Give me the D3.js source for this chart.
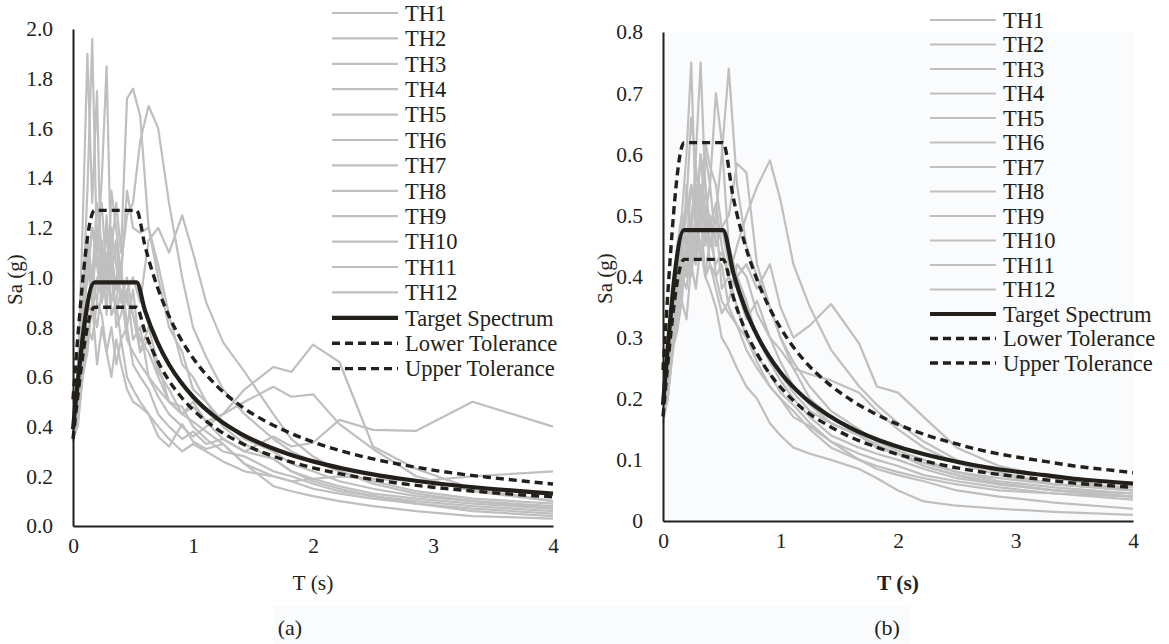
<!DOCTYPE html>
<html lang="en">
<head>
    <meta charset="UTF-8">
    <title>Response Spectra</title>
    <script src="https://d3js.org/d3.v7.min.js"></script>
    <style>
        html, body { margin: 0; padding: 0; background: #ffffff; }
        svg text { font-family: "Liberation Serif", "DejaVu Serif", serif; fill: #231f1a; }
    </style>
</head>
<body>
    <div id="chart"></div>

    <script>
        // Periods (s) of the record spectra
        const periods = [0, 0.04, 0.08, 0.12, 0.16, 0.20, 0.24, 0.28, 0.32, 0.36, 0.40, 0.45, 0.50, 0.56, 0.63,
            0.71, 0.80, 0.91, 1.0, 1.11, 1.25, 1.43, 1.67, 1.82, 2.0, 2.22, 2.5, 2.86, 3.33, 4.0];

        const seriesNames = ['TH1', 'TH2', 'TH3', 'TH4', 'TH5', 'TH6', 'TH7', 'TH8', 'TH9', 'TH10', 'TH11', 'TH12'];

        // (a) record spectra, Sa (g)
        const thA = [
            [0.38, 0.55, 0.90, 1.35, 1.96, 1.10, 0.95, 1.20, 0.85, 0.90, 1.05, 0.80, 0.95, 0.70, 0.75, 0.62, 0.55, 0.45, 0.42, 0.38, 0.33, 0.25, 0.20, 0.18, 0.15, 0.13, 0.11, 0.09, 0.07, 0.05],
            [0.36, 0.60, 1.20, 1.90, 1.30, 1.75, 0.90, 1.00, 1.15, 0.80, 0.85, 0.95, 0.75, 0.80, 0.60, 0.55, 0.50, 0.48, 0.40, 0.35, 0.30, 0.28, 0.22, 0.20, 0.17, 0.14, 0.12, 0.10, 0.08, 0.06],
            [0.40, 0.50, 0.85, 1.00, 1.20, 1.10, 1.40, 1.85, 1.00, 1.15, 0.90, 1.00, 0.85, 0.70, 0.80, 0.65, 0.50, 0.45, 0.50, 0.42, 0.35, 0.30, 0.27, 0.22, 0.19, 0.16, 0.13, 0.11, 0.09, 0.07],
            [0.42, 0.60, 0.80, 1.05, 0.90, 1.20, 1.00, 0.95, 1.10, 1.30, 1.10, 1.72, 1.76, 1.65, 1.20, 1.00, 0.80, 0.70, 0.55, 0.50, 0.42, 0.35, 0.30, 0.25, 0.22, 0.18, 0.15, 0.12, 0.10, 0.08],
            [0.40, 0.50, 0.70, 0.90, 0.85, 1.00, 0.95, 1.10, 0.90, 1.00, 1.05, 1.25, 1.30, 1.55, 1.69, 1.60, 1.30, 1.00, 0.80, 0.68, 0.55, 0.45, 0.35, 0.30, 0.26, 0.22, 0.18, 0.14, 0.11, 0.09],
            [0.38, 0.45, 0.70, 0.85, 1.00, 0.90, 1.15, 0.95, 1.20, 1.05, 0.90, 0.95, 1.00, 0.90, 1.15, 1.20, 1.10, 1.25, 1.10, 0.90, 0.74, 0.62, 0.45, 0.35, 0.28, 0.22, 0.17, 0.13, 0.10, 0.07],
            [0.35, 0.40, 0.60, 0.75, 0.90, 0.80, 0.95, 1.05, 0.85, 0.90, 0.75, 0.80, 0.65, 0.60, 0.55, 0.45, 0.40, 0.35, 0.38, 0.33, 0.35, 0.30, 0.36, 0.32, 0.335, 0.427, 0.387, 0.383, 0.50, 0.40],
            [0.40, 0.55, 0.75, 1.10, 0.95, 1.15, 1.30, 1.00, 1.10, 0.95, 1.00, 0.90, 0.85, 0.75, 0.70, 0.60, 0.50, 0.45, 0.48, 0.42, 0.45, 0.55, 0.64, 0.62, 0.73, 0.66, 0.32, 0.23, 0.15, 0.10],
            [0.45, 0.60, 0.85, 1.00, 1.20, 1.05, 0.90, 1.25, 1.00, 0.85, 0.95, 0.75, 0.70, 0.65, 0.60, 0.52, 0.45, 0.40, 0.36, 0.40, 0.45, 0.50, 0.56, 0.52, 0.53, 0.41, 0.31, 0.20, 0.14, 0.10],
            [0.36, 0.45, 0.65, 0.80, 0.75, 0.90, 0.85, 0.70, 0.80, 0.65, 0.75, 0.60, 0.55, 0.50, 0.45, 0.40, 0.35, 0.30, 0.33, 0.30, 0.26, 0.22, 0.20, 0.18, 0.19, 0.20, 0.19, 0.18, 0.20, 0.22],
            [0.34, 0.42, 0.60, 0.70, 0.90, 0.65, 0.80, 0.70, 0.60, 0.75, 0.65, 0.55, 0.50, 0.48, 0.45, 0.36, 0.32, 0.41, 0.34, 0.31, 0.33, 0.25, 0.16, 0.14, 0.12, 0.10, 0.08, 0.06, 0.04, 0.03],
            [0.40, 0.50, 0.80, 1.15, 1.00, 1.30, 1.10, 0.85, 1.35, 1.20, 1.00, 1.35, 1.20, 1.18, 1.20, 1.05, 0.85, 0.65, 0.60, 0.50, 0.40, 0.33, 0.27, 0.22, 0.18, 0.15, 0.12, 0.09, 0.06, 0.04]
        ];

        // (b) record spectra, Sa (g)
        const thB = [
            [0.18, 0.25, 0.35, 0.45, 0.50, 0.60, 0.75, 0.50, 0.55, 0.45, 0.50, 0.40, 0.42, 0.35, 0.32, 0.30, 0.26, 0.22, 0.20, 0.18, 0.15, 0.12, 0.10, 0.09, 0.08, 0.07, 0.06, 0.05, 0.045, 0.04],
            [0.20, 0.22, 0.30, 0.42, 0.38, 0.55, 0.45, 0.60, 0.75, 0.55, 0.45, 0.50, 0.38, 0.40, 0.35, 0.30, 0.27, 0.24, 0.21, 0.19, 0.16, 0.13, 0.11, 0.10, 0.09, 0.075, 0.065, 0.055, 0.045, 0.035],
            [0.17, 0.20, 0.28, 0.35, 0.45, 0.40, 0.50, 0.55, 0.48, 0.60, 0.55, 0.70, 0.62, 0.45, 0.40, 0.36, 0.30, 0.26, 0.23, 0.20, 0.17, 0.14, 0.12, 0.11, 0.10, 0.085, 0.07, 0.06, 0.05, 0.04],
            [0.19, 0.24, 0.32, 0.40, 0.36, 0.45, 0.50, 0.42, 0.55, 0.50, 0.45, 0.50, 0.60, 0.74, 0.55, 0.45, 0.40, 0.35, 0.30, 0.25, 0.20, 0.17, 0.14, 0.12, 0.11, 0.09, 0.075, 0.06, 0.05, 0.045],
            [0.18, 0.22, 0.30, 0.38, 0.42, 0.40, 0.48, 0.45, 0.52, 0.47, 0.50, 0.45, 0.48, 0.50, 0.585, 0.57, 0.42, 0.35, 0.30, 0.26, 0.22, 0.18, 0.15, 0.13, 0.115, 0.10, 0.08, 0.065, 0.055, 0.045],
            [0.20, 0.23, 0.30, 0.36, 0.40, 0.45, 0.42, 0.50, 0.45, 0.40, 0.46, 0.42, 0.44, 0.40, 0.45, 0.50, 0.547, 0.59, 0.525, 0.42, 0.35, 0.28, 0.22, 0.19, 0.16, 0.13, 0.10, 0.08, 0.06, 0.05],
            [0.21, 0.25, 0.33, 0.40, 0.45, 0.50, 0.55, 0.48, 0.60, 0.50, 0.55, 0.45, 0.48, 0.42, 0.40, 0.42, 0.38, 0.42, 0.35, 0.30, 0.32, 0.355, 0.29, 0.22, 0.21, 0.17, 0.12, 0.09, 0.07, 0.05],
            [0.17, 0.20, 0.28, 0.35, 0.40, 0.38, 0.45, 0.42, 0.50, 0.40, 0.38, 0.35, 0.30, 0.28, 0.25, 0.22, 0.20, 0.16, 0.14, 0.12, 0.11, 0.10, 0.085, 0.07, 0.05, 0.032, 0.025, 0.02, 0.015, 0.01],
            [0.16, 0.20, 0.27, 0.33, 0.38, 0.42, 0.40, 0.47, 0.43, 0.50, 0.42, 0.40, 0.36, 0.34, 0.32, 0.28, 0.25, 0.22, 0.20, 0.17, 0.155, 0.13, 0.10, 0.085, 0.075, 0.065, 0.05, 0.04, 0.03, 0.02],
            [0.22, 0.26, 0.34, 0.42, 0.50, 0.45, 0.55, 0.50, 0.60, 0.55, 0.48, 0.52, 0.45, 0.40, 0.38, 0.33, 0.36, 0.30, 0.28, 0.25, 0.24, 0.23, 0.21, 0.18, 0.15, 0.12, 0.095, 0.075, 0.06, 0.05],
            [0.19, 0.21, 0.28, 0.31, 0.36, 0.33, 0.42, 0.38, 0.45, 0.40, 0.42, 0.38, 0.34, 0.36, 0.42, 0.40, 0.34, 0.30, 0.26, 0.22, 0.19, 0.16, 0.14, 0.125, 0.11, 0.09, 0.075, 0.062, 0.05, 0.04],
            [0.20, 0.24, 0.32, 0.40, 0.48, 0.52, 0.66, 0.58, 0.50, 0.62, 0.58, 0.55, 0.48, 0.45, 0.40, 0.35, 0.30, 0.27, 0.24, 0.21, 0.18, 0.16, 0.14, 0.12, 0.11, 0.095, 0.08, 0.07, 0.06, 0.055]
        ];

        // Target spectrum and tolerance bounds
        const periodsTargetA = [0, 0.18, 0.53, 0.6, 0.7, 0.8, 0.9, 1.0, 1.2, 1.4, 1.6, 1.8, 2.0, 2.25, 2.5, 2.75, 3.0, 3.25, 3.5, 3.75, 4.0];
        const targetA = [0.39, 0.98, 0.98, 0.867, 0.743, 0.65, 0.578, 0.52, 0.433, 0.371, 0.325, 0.289, 0.26, 0.231, 0.208, 0.189, 0.173, 0.16, 0.149, 0.139, 0.13];
        const lowerA = [0.35, 0.88, 0.88, 0.78, 0.669, 0.585, 0.52, 0.468, 0.39, 0.334, 0.293, 0.26, 0.234, 0.208, 0.187, 0.17, 0.156, 0.144, 0.134, 0.125, 0.117];
        const upperA = [0.51, 1.27, 1.27, 1.127, 0.966, 0.845, 0.751, 0.676, 0.563, 0.482, 0.423, 0.376, 0.338, 0.30, 0.27, 0.246, 0.225, 0.208, 0.194, 0.181, 0.169];

        const periodsTargetB = [0, 0.18, 0.51, 0.6, 0.7, 0.8, 0.9, 1.0, 1.2, 1.4, 1.6, 1.8, 2.0, 2.25, 2.5, 2.75, 3.0, 3.25, 3.5, 3.75, 4.0];
        const targetB = [0.19, 0.476, 0.476, 0.405, 0.347, 0.304, 0.27, 0.243, 0.2025, 0.174, 0.152, 0.135, 0.1215, 0.108, 0.097, 0.088, 0.081, 0.075, 0.069, 0.065, 0.061];
        const lowerB = [0.171, 0.428, 0.428, 0.365, 0.312, 0.274, 0.243, 0.219, 0.182, 0.157, 0.137, 0.122, 0.109, 0.097, 0.087, 0.079, 0.073, 0.0675, 0.062, 0.0585, 0.055];
        const upperB = [0.247, 0.619, 0.619, 0.527, 0.451, 0.395, 0.351, 0.316, 0.263, 0.226, 0.198, 0.176, 0.158, 0.14, 0.126, 0.114, 0.105, 0.0975, 0.09, 0.0845, 0.079];

        const xTicks = [0, 1, 2, 3, 4];
        const yTicksA = [0, 0.2, 0.4, 0.6, 0.8, 1.0, 1.2, 1.4, 1.6, 1.8, 2.0];
        const yTicksB = [0, 0.1, 0.2, 0.3, 0.4, 0.5, 0.6, 0.7, 0.8];

        const colors = {
            record: '#bfbfbf',
            dark: '#231f1a',
            panelB: '#fafbfd'
        };

        const serif = '"Liberation Serif", "DejaVu Serif", serif';
        const width = 1169, height = 644;

        const svg = d3.select('#chart').append('svg')
            .attr('width', width)
            .attr('height', height);

        // faint band behind the captions
        svg.append('rect')
            .attr('x', 273).attr('y', 606).attr('width', 637).attr('height', 38)
            .attr('fill', '#fafbfd');

        function drawPanel(opt) {
            const x = d3.scaleLinear().domain([0, 4]).range([opt.left, opt.right]);
            const y = d3.scaleLinear().domain([0, opt.yMax]).range([opt.bottom, opt.top]);

            if (opt.bg) {
                svg.append('rect')
                    .attr('x', opt.left).attr('y', opt.top)
                    .attr('width', opt.bgRight - opt.left).attr('height', opt.bottom - opt.top)
                    .attr('fill', opt.bg);
            }

            const g = svg.append('g');

            // record spectra
            const recLine = d3.line()
                .x((d, i) => x(periods[i]))
                .y(d => y(d));

            g.selectAll('.rec')
                .data(opt.records)
                .enter()
                .append('path')
                .attr('class', 'rec')
                .attr('d', recLine)
                .attr('fill', 'none')
                .attr('stroke', colors.record)
                .attr('stroke-width', 2.2)
                .attr('stroke-linejoin', 'round');

            // target + tolerances
            const tLine = d3.line()
                .x((d, i) => x(opt.tPeriods[i]))
                .y(d => y(d))
                .curve(d3.curveMonotoneX);

            [opt.lower, opt.upper].forEach(arr => {
                g.append('path')
                    .attr('d', tLine(arr))
                    .attr('fill', 'none')
                    .attr('stroke', colors.dark)
                    .attr('stroke-width', 3.4)
                    .attr('stroke-dasharray', '8,5');
            });

            g.append('path')
                .attr('d', tLine(opt.target))
                .attr('fill', 'none')
                .attr('stroke', colors.dark)
                .attr('stroke-width', 4.2);

            // axes
            const xAxis = svg.append('g')
                .attr('transform', `translate(0, ${opt.bottom})`)
                .call(d3.axisBottom(x).tickValues(xTicks).tickSize(0).tickPadding(12).tickFormat(d3.format('d')));

            const yAxis = svg.append('g')
                .attr('transform', `translate(${opt.left}, 0)`)
                .call(d3.axisLeft(y).tickValues(opt.yTicks).tickSize(0).tickPadding(20).tickFormat(opt.yFormat));

            [xAxis, yAxis].forEach(ax => {
                ax.attr('font-family', serif);
                ax.select('.domain').attr('stroke', colors.dark).attr('stroke-width', 2);
                ax.selectAll('text')
                    .style('font-family', serif)
                    .style('font-size', '21.5px')
                    .attr('fill', colors.dark);
            });

            // axis titles
            svg.append('text')
                .attr('transform', `translate(${opt.yTitleX}, ${(opt.top + opt.bottom) / 2 + 2}) rotate(-90)`)
                .attr('text-anchor', 'middle')
                .style('font-family', serif)
                .style('font-size', '21px')
                .text('Sa (g)');

            svg.append('text')
                .attr('x', (opt.left + opt.right) / 2)
                .attr('y', 590)
                .attr('text-anchor', 'middle')
                .style('font-family', serif)
                .style('font-size', '21.5px')
                .style('font-weight', opt.boldT ? 'bold' : 'normal')
                .text('T (s)');

            svg.append('text')
                .attr('x', opt.captionX)
                .attr('y', 635)
                .attr('text-anchor', 'middle')
                .style('font-family', serif)
                .style('font-size', '22px')
                .text(opt.caption);

            // legend
            const entries = seriesNames.map(n => ({ name: n, type: 'rec' }))
                .concat([
                    { name: 'Target Spectrum', type: 'target' },
                    { name: 'Lower Tolerance', type: 'dash' },
                    { name: 'Upper Tolerance', type: 'dash' }
                ]);

            const leg = svg.append('g');
            entries.forEach((e, i) => {
                const cy = opt.legY + i * opt.legStep;
                const ln = leg.append('line')
                    .attr('x1', opt.legX).attr('x2', opt.legX + 66)
                    .attr('y1', cy).attr('y2', cy);
                if (e.type === 'rec') {
                    ln.attr('stroke', colors.record).attr('stroke-width', 2.2);
                } else if (e.type === 'target') {
                    ln.attr('stroke', colors.dark).attr('stroke-width', 4.2);
                } else {
                    ln.attr('stroke', colors.dark).attr('stroke-width', 3.4).attr('stroke-dasharray', '8,5');
                }
                leg.append('text')
                    .attr('x', opt.legX + 73)
                    .attr('y', cy)
                    .attr('dy', '0.35em')
                    .style('font-family', serif)
                    .style('font-size', '22.5px')
                    .text(e.name);
            });
        }

        drawPanel({
            left: 73, right: 553, top: 29, bottom: 526, yMax: 2.0,
            records: thA, tPeriods: periodsTargetA, target: targetA, lower: lowerA, upper: upperA,
            yTicks: yTicksA, yFormat: d3.format('.1f'),
            yTitleX: 22, caption: '(a)', captionX: 290, boldT: false,
            legX: 332, legY: 13, legStep: 25.4
        });

        drawPanel({
            left: 663, right: 1133, top: 32, bottom: 521, yMax: 0.8,
            records: thB, tPeriods: periodsTargetB, target: targetB, lower: lowerB, upper: upperB,
            yTicks: yTicksB, yFormat: d => d === 0 ? '0' : d3.format('.1f')(d),
            yTitleX: 612, caption: '(b)', captionX: 887, boldT: true,
            bg: colors.panelB, bgRight: 1133,
            legX: 930, legY: 20, legStep: 24.5
        });
    </script>
</body>
</html>
